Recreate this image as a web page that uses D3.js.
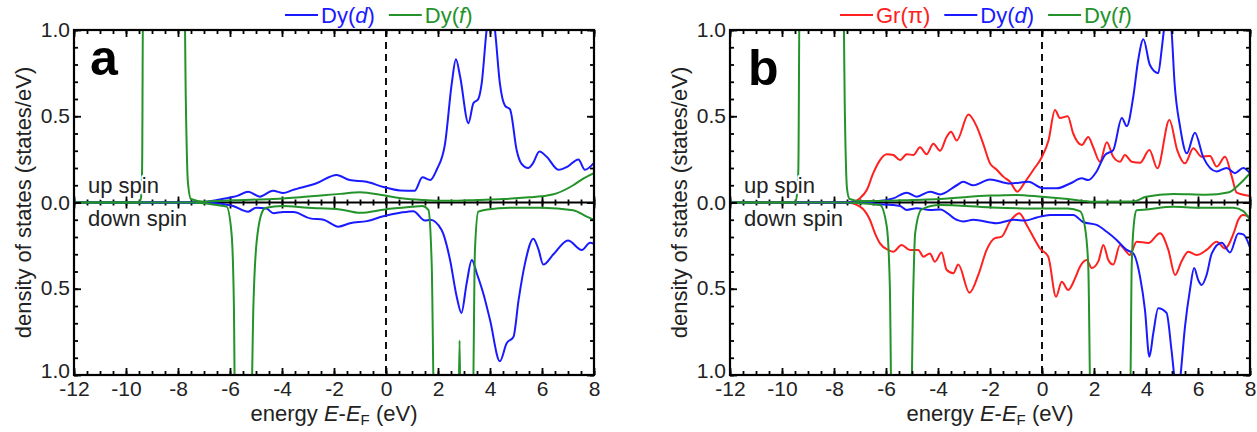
<!DOCTYPE html>
<html>
<head>
<meta charset="utf-8">
<script src="https://cdn.jsdelivr.net/npm/d3@7"></script>
<style>
  body { margin: 0; background: #fff; }
  svg { display: block; font-family: "Liberation Sans", Arial, sans-serif; }
</style>
</head>
<body>
<svg id="chart" width="1257" height="432"></svg>
<script>
// axis ticks
const ENERGY_TICKS = [-12, -10, -8, -6, -4, -2, 0, 2, 4, 6, 8];
const ENERGY_MINOR = d3.range(-12, 8.01, 0.5);
const DOS_TICKS = [0, 0.5, 1];
const DOS_MINOR = d3.range(0, 1.001, 0.1);

// panel a : Dy adatom on graphene, [energy (eV), DOS (states/eV)]
const aDyDUp = [[-12, 0], [-7.5, 0], [-6.9, 0.005], [-6.3, 0.02], [-5.7, 0.04], [-5.3, 0.063], [-4.85, 0.034], [-4.35, 0.068], [-3.95, 0.055], [-3.6, 0.072], [-2.65, 0.113], [-1.9, 0.16], [-1.4, 0.13], [-0.75, 0.12], [-0.1, 0.09], [0.54, 0.07], [1.1, 0.068], [1.4, 0.146], [1.7, 0.13], [1.95, 0.19], [2.27, 0.34], [2.53, 0.69], [2.69, 0.83], [2.85, 0.73], [3.17, 0.46], [3.36, 0.575], [3.55, 0.6], [3.68, 0.69], [3.87, 1.0], [4.02, 1.15], [4.19, 1.0], [4.38, 0.69], [4.58, 0.56], [4.77, 0.54], [5.03, 0.3], [5.2, 0.227], [5.47, 0.2], [5.65, 0.227], [5.9, 0.295], [6.18, 0.265], [6.63, 0.19], [7.0, 0.21], [7.4, 0.25], [7.65, 0.19], [8, 0.23]];
const aDyDDown = [[-12, 0], [-7, 0], [-6.5, 0.005], [-5.88, 0.02], [-5.3, 0.053], [-5.0, 0.03], [-4.6, 0.035], [-4.33, 0.062], [-3.95, 0.055], [-3.56, 0.055], [-2.92, 0.092], [-2.4, 0.1], [-1.83, 0.14], [-1.38, 0.12], [-0.74, 0.108], [-0.1, 0.08], [0.54, 0.06], [1.05, 0.05], [1.5, 0.105], [1.7, 0.1], [2.14, 0.16], [2.46, 0.33], [2.72, 0.546], [2.9, 0.64], [3.1, 0.47], [3.3, 0.333], [3.49, 0.41], [3.74, 0.526], [4.0, 0.68], [4.38, 0.92], [4.64, 0.816], [4.9, 0.78], [5.1, 0.565], [5.35, 0.35], [5.67, 0.21], [5.86, 0.27], [6.05, 0.36], [6.44, 0.3], [7.0, 0.22], [7.53, 0.275], [7.85, 0.233], [8, 0.24]];
const aDyFUp = [[-12, 0], [-9.5, 0], [-9.42, 0.03], [-9.38, 0.2], [-9.34, 1.3], [-7.76, 1.3], [-7.7, 0.6], [-7.62, 0.12], [-7.5, 0.02], [-7, 0.005], [-5.9, 0.013], [-4.35, 0.02], [-3.3, 0.03], [-1.77, 0.05], [-1.0, 0.06], [-0.04, 0.04], [0.6, 0.025], [1.4, 0.015], [2.5, 0.01], [3.5, 0.015], [4.5, 0.02], [5.5, 0.03], [6.2, 0.04], [6.56, 0.053], [7.2, 0.1], [7.6, 0.14], [8, 0.17]];
const aDyFDown = [[-12, 0], [-7.5, 0], [-7, 0.005], [-6.5, 0.015], [-6.13, 0.024], [-5.94, 0.18], [-5.85, 0.6], [-5.8, 1.3], [-5.2, 1.3], [-5.1, 0.6], [-4.97, 0.22], [-4.72, 0.043], [-4.6, 0.03], [-4, 0.02], [-3, 0.03], [-1.77, 0.04], [-1.0, 0.06], [-0.04, 0.04], [1.0, 0.025], [1.4, 0.02], [1.63, 0.043], [1.76, 0.37], [1.86, 1.3], [2.78, 1.3], [2.83, 0.8], [2.87, 1.3], [3.33, 1.3], [3.42, 0.28], [3.55, 0.053], [3.9, 0.04], [5, 0.03], [6, 0.03], [7.2, 0.045], [7.7, 0.08], [8, 0.1]];

// panel b : Dy on graphene with Gr(pi) projection
const bGrUp = [[-12, 0], [-7.5, 0], [-7.26, 0.003], [-7.0, 0.025], [-6.74, 0.072], [-6.49, 0.17], [-6.23, 0.246], [-5.97, 0.28], [-5.72, 0.275], [-5.46, 0.246], [-5.2, 0.28], [-4.95, 0.275], [-4.69, 0.32], [-4.44, 0.28], [-4.18, 0.34], [-3.92, 0.3], [-3.67, 0.38], [-3.5, 0.41], [-3.28, 0.36], [-2.83, 0.51], [-2.51, 0.44], [-2.26, 0.34], [-2.0, 0.227], [-1.74, 0.19], [-1.49, 0.15], [-1.23, 0.12], [-0.95, 0.063], [-0.65, 0.12], [-0.33, 0.19], [0.0, 0.265], [0.25, 0.36], [0.5, 0.536], [0.69, 0.49], [0.99, 0.5], [1.2, 0.4], [1.53, 0.333], [1.78, 0.38], [1.97, 0.32], [2.23, 0.236], [2.49, 0.35], [2.74, 0.265], [3.0, 0.236], [3.19, 0.275], [3.45, 0.236], [3.77, 0.23], [4.13, 0.304], [4.44, 0.198], [4.9, 0.478], [5.2, 0.304], [5.5, 0.227], [5.82, 0.314], [6.14, 0.265], [6.46, 0.27], [6.72, 0.208], [7.04, 0.265], [7.3, 0.15], [7.49, 0.057], [8, 0.038]];
const bGrDown = [[-12, 0], [-7.51, 0], [-7.0, 0.024], [-6.62, 0.1], [-6.42, 0.18], [-6.23, 0.237], [-5.91, 0.275], [-5.72, 0.285], [-5.4, 0.246], [-5.08, 0.275], [-4.76, 0.275], [-4.56, 0.314], [-4.31, 0.295], [-4.12, 0.343], [-3.86, 0.29], [-3.67, 0.39], [-3.41, 0.41], [-3.22, 0.36], [-2.79, 0.523], [-2.45, 0.42], [-2.13, 0.275], [-1.81, 0.207], [-1.55, 0.198], [-1.23, 0.11], [-0.87, 0.063], [-0.59, 0.13], [-0.27, 0.217], [-0.08, 0.266], [0.24, 0.314], [0.54, 0.546], [0.76, 0.46], [1.01, 0.507], [1.27, 0.44], [1.46, 0.372], [1.72, 0.333], [1.91, 0.38], [2.17, 0.34], [2.36, 0.246], [2.55, 0.333], [2.74, 0.36], [3.0, 0.246], [3.19, 0.275], [3.38, 0.304], [3.64, 0.227], [4.09, 0.235], [4.54, 0.178], [4.86, 0.275], [5.12, 0.42], [5.37, 0.34], [5.63, 0.285], [5.95, 0.304], [6.33, 0.275], [6.72, 0.227], [7.04, 0.266], [7.37, 0.178], [7.55, 0.1], [7.74, 0.072], [8, 0.085]];
const bDyDUp = [[-12, 0], [-7, 0], [-6.5, 0.005], [-5.72, 0.024], [-5.2, 0.057], [-4.82, 0.034], [-4.31, 0.063], [-3.92, 0.047], [-3.28, 0.1], [-3.03, 0.12], [-2.64, 0.1], [-2.0, 0.134], [-1.23, 0.11], [-0.53, 0.12], [0.05, 0.082], [0.56, 0.082], [1.08, 0.11], [1.53, 0.14], [1.78, 0.13], [2.1, 0.18], [2.42, 0.275], [2.74, 0.304], [3.07, 0.49], [3.26, 0.443], [3.51, 0.613], [3.7, 0.826], [3.9, 0.946], [4.15, 0.797], [4.47, 0.75], [4.6, 0.884], [4.69, 1.0], [4.84, 1.12], [4.98, 1.0], [5.1, 0.69], [5.31, 0.44], [5.57, 0.285], [5.88, 0.405], [6.2, 0.263], [6.72, 0.18], [7.1, 0.2], [7.42, 0.17], [7.74, 0.2], [8, 0.17]];
const bDyDDown = [[-12, 0], [-7, 0], [-6.49, 0.008], [-5.46, 0.02], [-5.2, 0.043], [-4.82, 0.033], [-4.31, 0.043], [-3.92, 0.04], [-3.28, 0.1], [-3.03, 0.11], [-2.64, 0.1], [-1.74, 0.12], [-1.1, 0.1], [-0.65, 0.105], [-0.2, 0.087], [0.31, 0.072], [1.2, 0.072], [1.58, 0.113], [2.1, 0.13], [2.49, 0.17], [2.87, 0.217], [3.26, 0.275], [3.51, 0.295], [3.77, 0.43], [3.96, 0.623], [4.13, 0.894], [4.28, 0.758], [4.47, 0.613], [4.79, 0.64], [4.98, 0.855], [5.12, 1.05], [5.22, 1.15], [5.33, 1.0], [5.5, 0.72], [5.69, 0.507], [5.85, 0.38], [6.01, 0.45], [6.14, 0.478], [6.33, 0.42], [6.53, 0.295], [6.91, 0.233], [7.23, 0.29], [7.55, 0.18], [7.74, 0.185], [8, 0.26]];
const bDyFUp = [[-12, 0], [-9.5, 0], [-9.42, 0.05], [-9.37, 0.2], [-9.32, 1.3], [-7.65, 1.3], [-7.58, 0.5], [-7.5, 0.08], [-7.4, 0.02], [-7, 0.008], [-6, 0.01], [-5, 0.015], [-3.92, 0.02], [-2, 0.04], [-1, 0.044], [0, 0.033], [1, 0.02], [2, 0.005], [3.5, 0.006], [4.0, 0.033], [5.05, 0.05], [6.3, 0.045], [7.2, 0.06], [7.6, 0.107], [8, 0.17]];
const bDyFDown = [[-12, 0], [-7.5, 0], [-7, 0.005], [-6.5, 0.01], [-6.23, 0.015], [-5.97, 0.14], [-5.85, 0.5], [-5.78, 1.3], [-5.05, 1.3], [-4.95, 0.5], [-4.88, 0.18], [-4.63, 0.04], [-3.92, 0.015], [-2, 0.028], [0, 0.035], [1, 0.035], [1.46, 0.05], [1.65, 0.14], [1.78, 0.37], [1.88, 1.3], [3.38, 1.3], [3.45, 0.37], [3.55, 0.1], [3.64, 0.045], [4.03, 0.04], [5.05, 0.025], [6, 0.03], [7.37, 0.03], [7.74, 0.05], [8, 0.1]];

const BLUE = "#1a1aff";
const GREEN = "#23932a";
const RED = "#ff2020";

const TOP = 30;
const ZERO_Y = 202.5;
const BOTTOM = 375;

const svg = d3.select("#chart");

const panels = [
  {
    id: "a", left: 74, right: 594, letterX: 90, letterY: 75, legendX: 285,
    series: [
      { name: "Dy(d)", up: aDyDUp, down: aDyDDown, color: BLUE },
      { name: "Dy(f)", up: aDyFUp, down: aDyFDown, color: GREEN }
    ]
  },
  {
    id: "b", left: 730, right: 1250, letterX: 748, letterY: 85, legendX: 840,
    series: [
      { name: "Gr(π)", up: bGrUp, down: bGrDown, color: RED },
      { name: "Dy(d)", up: bDyDUp, down: bDyDDown, color: BLUE },
      { name: "Dy(f)", up: bDyFUp, down: bDyFDown, color: GREEN }
    ]
  }
];

panels.forEach(drawPanel);

function drawPanel(p) {
  const x = d3.scaleLinear().domain([-12, 8]).range([p.left, p.right]);
  const yUp = d3.scaleLinear().domain([0, 1]).range([ZERO_Y, TOP]);
  const yDown = d3.scaleLinear().domain([0, 1]).range([ZERO_Y, BOTTOM]);
  const g = svg.append("g");

  g.append("clipPath").attr("id", `clip-${p.id}`)
    .append("rect")
    .attr("x", p.left).attr("y", TOP)
    .attr("width", p.right - p.left).attr("height", BOTTOM - TOP);

  // zero line with ticks crossing it
  tickAxis(g, d3.axisTop, x, ENERGY_MINOR, 3, ZERO_Y, true);
  tickAxis(g, d3.axisBottom, x, ENERGY_MINOR, 3, ZERO_Y, true);
  tickAxis(g, d3.axisTop, x, ENERGY_TICKS, 6, ZERO_Y, true);
  tickAxis(g, d3.axisBottom, x, ENERGY_TICKS, 6, ZERO_Y, true);
  g.append("line")
    .attr("x1", p.left).attr("x2", p.right)
    .attr("y1", ZERO_Y).attr("y2", ZERO_Y)
    .attr("stroke", "#000").attr("stroke-width", 2.2);

  // Fermi level
  g.append("line")
    .attr("x1", x(0)).attr("x2", x(0))
    .attr("y1", TOP).attr("y2", BOTTOM)
    .attr("stroke", "#111").attr("stroke-width", 2)
    .attr("stroke-dasharray", "7,5");

  const curves = g.append("g").attr("clip-path", `url(#clip-${p.id})`);
  const lineUp = d3.line().x((d) => x(d[0])).y((d) => yUp(d[1])).curve(d3.curveMonotoneX);
  const lineDown = d3.line().x((d) => x(d[0])).y((d) => yDown(d[1])).curve(d3.curveMonotoneX);
  p.series.forEach((s) => {
    curves.append("path").attr("d", lineUp(s.up))
      .attr("fill", "none").attr("stroke", s.color).attr("stroke-width", 2);
    curves.append("path").attr("d", lineDown(s.down))
      .attr("fill", "none").attr("stroke", s.color).attr("stroke-width", 2);
  });

  // frame ticks (inward)
  tickAxis(g, d3.axisBottom, x, ENERGY_MINOR, -4, BOTTOM, true);
  tickAxis(g, d3.axisBottom, x, ENERGY_TICKS, -7, BOTTOM, true);
  tickAxis(g, d3.axisTop, x, ENERGY_MINOR, -4, TOP, true);
  tickAxis(g, d3.axisTop, x, ENERGY_TICKS, -7, TOP, true);
  [yUp, yDown].forEach((y) => {
    tickAxis(g, d3.axisLeft, y, DOS_MINOR, -4, p.left, false);
    tickAxis(g, d3.axisLeft, y, DOS_TICKS, -7, p.left, false);
    tickAxis(g, d3.axisRight, y, DOS_MINOR, -4, p.right, false);
    tickAxis(g, d3.axisRight, y, DOS_TICKS, -7, p.right, false);
  });

  g.append("rect")
    .attr("x", p.left).attr("y", TOP)
    .attr("width", p.right - p.left).attr("height", BOTTOM - TOP)
    .attr("fill", "none").attr("stroke", "#000").attr("stroke-width", 2.2);

  // tick labels (plain hyphen for negatives, as in the figure)
  const xLabels = g.append("g")
    .attr("transform", `translate(0, ${BOTTOM})`)
    .call(d3.axisBottom(x).tickValues(ENERGY_TICKS).tickSize(0).tickPadding(6).tickFormat((d) => String(d)));
  styleLabels(xLabels);

  const yLabelsUp = g.append("g")
    .attr("transform", `translate(${p.left}, 0)`)
    .call(d3.axisLeft(yUp).tickValues(DOS_TICKS).tickSize(0).tickPadding(4).tickFormat(d3.format(".1f")));
  styleLabels(yLabelsUp);
  const yLabelsDown = g.append("g")
    .attr("transform", `translate(${p.left}, -4)`)
    .call(d3.axisLeft(yDown).tickValues([0.5, 1]).tickSize(0).tickPadding(4).tickFormat(d3.format(".1f")));
  styleLabels(yLabelsDown);
  yLabelsDown.selectAll(".tick").filter((d) => d === 0.5).attr("transform", `translate(0, ${yDown(0.5) + 4})`);

  // spin labels
  [["up spin", 193], ["down spin", 226]].forEach(([label, yPos]) => {
    g.append("text")
      .attr("x", p.left + 14).attr("y", yPos)
      .attr("font-size", 22).attr("fill", "#222")
      .attr("stroke", "#fff").attr("stroke-width", 4)
      .attr("paint-order", "stroke").attr("stroke-linejoin", "round")
      .text(label);
  });

  // panel letter
  g.append("text")
    .attr("x", p.letterX).attr("y", p.letterY)
    .attr("font-size", 50).attr("font-weight", "bold").attr("fill", "#000")
    .text(p.id);

  // axis titles
  const cx = (p.left + p.right) / 2;
  const xt = g.append("text")
    .attr("x", cx).attr("y", 421)
    .attr("text-anchor", "middle").attr("font-size", 22).attr("fill", "#222");
  xt.append("tspan").text("energy ");
  xt.append("tspan").attr("font-style", "italic").text("E");
  xt.append("tspan").text("-");
  xt.append("tspan").attr("font-style", "italic").text("E");
  xt.append("tspan").attr("font-size", 15).attr("dy", 4).text("F");
  xt.append("tspan").attr("dy", -4).text(" (eV)");

  g.append("text")
    .attr("transform", `translate(${p.left - 43}, ${ZERO_Y}) rotate(-90)`)
    .attr("text-anchor", "middle").attr("font-size", 22).attr("fill", "#222")
    .text("density of states (states/eV)");

  // legend
  let lx = p.legendX;
  p.series.forEach((s) => {
    g.append("line")
      .attr("x1", lx).attr("x2", lx + 33)
      .attr("y1", 15).attr("y2", 15)
      .attr("stroke", s.color).attr("stroke-width", 2);
    const t = g.append("text")
      .attr("x", lx + 36).attr("y", 23)
      .attr("font-size", 22).attr("fill", s.color);
    const m = s.name.match(/^(.*\()(.*)(\))$/);
    t.append("tspan").text(m[1]);
    t.append("tspan").attr("font-style", m[2] === "π" ? "normal" : "italic").text(m[2]);
    t.append("tspan").text(m[3]);
    lx += 36 + t.node().getComputedTextLength() + 14;
  });
}

function tickAxis(g, axisFn, scale, values, size, pos, horizontal) {
  const a = g.append("g")
    .attr("transform", horizontal ? `translate(0, ${pos})` : `translate(${pos}, 0)`)
    .call(axisFn(scale).tickValues(values).tickSize(size).tickSizeOuter(0).tickFormat(""));
  a.select(".domain").remove();
  a.selectAll("line").attr("stroke", "#000").attr("stroke-width", 1.8);
  a.selectAll("text").remove();
}

function styleLabels(sel) {
  sel.select(".domain").remove();
  sel.selectAll("line").remove();
  sel.attr("font-family", null).attr("font-size", null);
  sel.selectAll("text").attr("font-size", 21).attr("fill", "#222");
}
</script>
</body>
</html>
